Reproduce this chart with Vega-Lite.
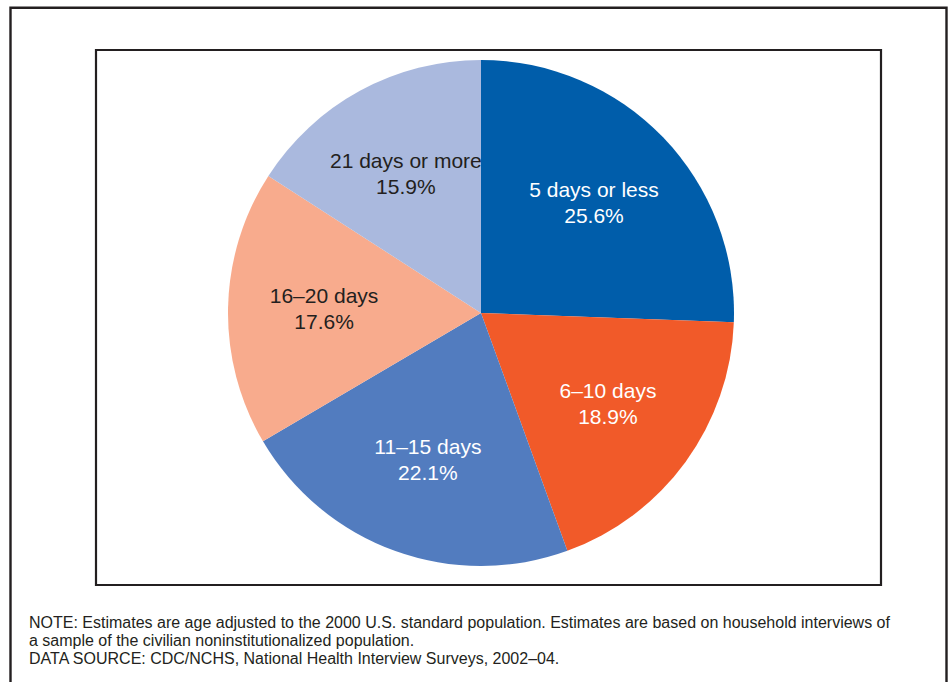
{
  "$schema": "https://vega.github.io/schema/vega-lite/v6.json",
  "autosize": "none",
  "width": 785,
  "height": 535,
  "padding": {"left": 96, "top": 50, "right": 68, "bottom": 97},
  "background": "white",
  "config": {
    "view": {"stroke": "#231f20", "strokeWidth": 2.2},
    "font": "Liberation Sans"
  },
  "title": {
    "text": [
      "NOTE: Estimates are age adjusted to the 2000 U.S. standard population. Estimates are based on household interviews of",
      "a sample of the civilian noninstitutionalized population.",
      "DATA SOURCE: CDC/NCHS, National Health Interview Surveys, 2002–04."
    ],
    "orient": "bottom",
    "anchor": "start",
    "frame": "group",
    "baseline": "top",
    "offset": -70,
    "dx": -67,
    "fontSize": 16,
    "fontWeight": "normal",
    "lineHeight": 18,
    "color": "#231f20",
    "font": "Liberation Sans"
  },
  "data": {
    "values": [
      {"rank": 1, "category": "5 days or less", "pct": 25.6, "pctLabel": "25.6%"},
      {"rank": 2, "category": "6–10 days", "pct": 18.9, "pctLabel": "18.9%"},
      {"rank": 3, "category": "11–15 days", "pct": 22.1, "pctLabel": "22.1%"},
      {"rank": 4, "category": "16–20 days", "pct": 17.6, "pctLabel": "17.6%"},
      {"rank": 5, "category": "21 days or more", "pct": 15.9, "pctLabel": "15.9%"}
    ]
  },
  "layer": [
    {
      "data": {"values": [{"frame": "outer"}]},
      "mark": {"type": "rect", "fill": null, "stroke": "#231f20", "strokeWidth": 2.4},
      "encoding": {
        "x": {"value": -85.5},
        "x2": {"value": 850.5},
        "y": {"value": -42.2},
        "y2": {"value": 634}
      }
    },
    {
      "mark": {"type": "arc", "outerRadius": 253, "xOffset": -7.5, "yOffset": -4.5},
      "encoding": {
        "theta": {"field": "pct", "type": "quantitative", "stack": true},
        "order": {"field": "rank", "type": "quantitative"},
        "color": {
          "field": "category",
          "type": "nominal",
          "sort": null,
          "scale": {
            "domain": ["5 days or less", "6–10 days", "11–15 days", "16–20 days", "21 days or more"],
            "range": ["#005DAA", "#F15A29", "#527CBF", "#F8AB8D", "#AAB9DE"]
          },
          "legend": null
        }
      }
    },
    {
      "mark": {"type": "text", "radius": 157, "xOffset": -7.5, "yOffset": -4.5, "dy": -13, "fontSize": 21, "font": "Liberation Sans"},
      "encoding": {
        "theta": {"field": "pct", "type": "quantitative", "stack": true},
        "order": {"field": "rank", "type": "quantitative"},
        "text": {"field": "category"},
        "color": {
          "field": "category",
          "type": "nominal",
          "scale": {
            "domain": ["5 days or less", "6–10 days", "11–15 days", "16–20 days", "21 days or more"],
            "range": ["#ffffff", "#ffffff", "#ffffff", "#231f20", "#231f20"]
          },
          "legend": null
        }
      }
    },
    {
      "mark": {"type": "text", "radius": 157, "xOffset": -7.5, "yOffset": -4.5, "dy": 13, "fontSize": 21, "font": "Liberation Sans"},
      "encoding": {
        "theta": {"field": "pct", "type": "quantitative", "stack": true},
        "order": {"field": "rank", "type": "quantitative"},
        "text": {"field": "pctLabel"},
        "color": {
          "field": "category",
          "type": "nominal",
          "scale": {
            "domain": ["5 days or less", "6–10 days", "11–15 days", "16–20 days", "21 days or more"],
            "range": ["#ffffff", "#ffffff", "#ffffff", "#231f20", "#231f20"]
          },
          "legend": null
        }
      }
    }
  ],
  "resolve": {"scale": {"color": "independent"}}
}
